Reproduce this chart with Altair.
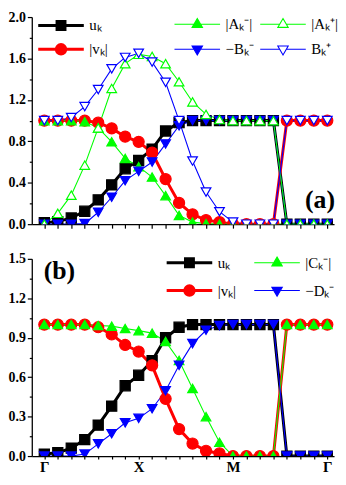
import altair as alt
import pandas as pd

# ---------------- data ----------------
k_index = list(range(22))
x_tick_pos = [0, 7, 14, 21]
x_tick_text = ["Γ", "X", "M", "Γ"]

u_k = [0.015, 0.025, 0.06, 0.125, 0.235, 0.38, 0.535, 0.615, 0.725, 0.90, 0.98,
       1.0, 1.0, 1.0, 1.0, 1.0, 1.0, 1.0, 0.0, 0.0, 0.0, 0.0]
v_k = [1.0, 1.0, 1.0, 1.0, 0.98, 0.925, 0.845, 0.795, 0.69, 0.435, 0.205,
       0.095, 0.04, 0.02, 0.0, 0.0, 0.0, 0.0, 1.0, 1.0, 1.0, 1.0]
a_minus = [1.0, 1.0, 1.0, 0.99, 0.93, 0.795, 0.635, 0.555, 0.455, 0.275, 0.085,
           0.02, 0.005, 0.0, 0.0, 0.0, 0.0, 0.0, 0.0, 0.0, 0.0, 0.0]
a_plus = [0.0, 0.105, 0.28, 0.57, 0.93, 1.31, 1.55, 1.64, 1.62, 1.55, 1.375,
          1.18, 1.06, 1.01, 1.0, 1.0, 1.0, 1.0, 0.0, 0.0, 0.0, 0.0]
b_minus_neg = [0.0, 0.0, 0.0, 0.005, 0.115, 0.26, 0.42, 0.51, 0.60, 0.775, 0.95,
               1.0, 1.0, 1.0, 1.0, 1.0, 1.0, 1.0, 0.0, 0.0, 0.0, 0.0]
b_plus = [1.0, 1.0, 1.03, 1.135, 1.30, 1.50, 1.61, 1.65, 1.565, 1.37, 1.0,
          0.61, 0.31, 0.12, 0.02, 0.0, 0.0, 0.0, 1.0, 1.0, 1.0, 1.0]
c_minus = [1.0, 1.0, 1.0, 1.0, 0.993, 0.988, 0.97, 0.954, 0.935, 0.872, 0.727,
           0.514, 0.30, 0.105, 0.0, 0.0, 0.0, 0.0, 1.0, 1.0, 1.0, 1.0]
d_minus_neg = [0.0, 0.0, 0.0, 0.015, 0.093, 0.17, 0.253, 0.287, 0.36, 0.497, 0.69,
               0.855, 0.957, 0.993, 1.0, 1.0, 1.0, 1.0, 0.0, 0.0, 0.0, 0.0]

top_series = ["uₖ", "|vₖ|", "|Aₖ⁻|", "−Bₖ⁻", "|Aₖ⁺|", "Bₖ⁺"]
top_values = [u_k, v_k, a_minus, b_minus_neg, a_plus, b_plus]
bottom_series = ["uₖ", "|vₖ|", "|Cₖ⁻|", "−Dₖ⁻"]
bottom_values = [u_k, v_k, c_minus, d_minus_neg]

top_y_major = [0.0, 0.4, 0.8, 1.2, 1.6, 2.0]
top_y_minor = [0.2, 0.6, 1.0, 1.4, 1.8]
bottom_y_major = [0.0, 0.3, 0.6, 0.9, 1.2, 1.5]
bottom_y_minor = [0.15, 0.45, 0.75, 1.05, 1.35]

# ---------------- styles / layout ----------------
SERIF = "Liberation Serif"
BLACK, RED, GREEN, BLUE, WHITE = "#000000", "#ff0000", "#00ff00", "#0000ff", "#ffffff"
P_SQ = "M-4.6,0H-0.8M0.8,0H4.6M-0.8,-0.8H0.8V0.8H-0.8Z"
P_CI = "M-4.6,0H-0.95M0.95,0H4.6M-0.95,0A0.95,0.95 0 1,0 0.95,0A0.95,0.95 0 1,0 -0.95,0Z"
P_TU = "M-4.6,0H-0.75M0.75,0H4.6M0,-1.15L1.05,0.65L-1.05,0.65Z"
P_TD = "M-4.6,0H-0.75M0.75,0H4.6M0,1.15L1.05,-0.65L-1.05,-0.65Z"

style = {
    "uₖ": dict(color=BLACK, fill=BLACK, shape="square", size=105, width=3.0, path=P_SQ),
    "|vₖ|": dict(color=RED, fill=RED, shape="circle", size=125, width=3.0, path=P_CI),
    "|Aₖ⁻|": dict(color=GREEN, fill=GREEN, shape="triangle-up", size=95, width=1.1, path=P_TU),
    "−Bₖ⁻": dict(color=BLUE, fill=BLUE, shape="triangle-down", size=95, width=1.1, path=P_TD),
    "|Aₖ⁺|": dict(color=GREEN, fill=WHITE, shape="triangle-up", size=95, width=1.1, path=P_TU),
    "Bₖ⁺": dict(color=BLUE, fill=WHITE, shape="triangle-down", size=95, width=1.1, path=P_TD),
    "|Cₖ⁻|": dict(color=GREEN, fill=GREEN, shape="triangle-up", size=95, width=1.1, path=P_TU),
    "−Dₖ⁻": dict(color=BLUE, fill=BLUE, shape="triangle-down", size=95, width=1.1, path=P_TD),
}

# legend entry anchor (symbol centre, px from the panel's plot origin)
top_legend_pos = {"uₖ": (27, 6.0), "|vₖ|": (27, 30.0),
                  "|Aₖ⁻|": (164.5, 4.7), "−Bₖ⁻": (164.5, 30.0),
                  "|Aₖ⁺|": (251, 4.7), "Bₖ⁺": (251, 30.0)}
bottom_legend_pos = {"uₖ": (156.6, 1.5), "|vₖ|": (156.6, 29.5),
                     "|Cₖ⁻|": (245, 1.5), "−Dₖ⁻": (245, 29.5)}
SYM_DX, SYM_DY = 5, 5


def attr(names, key):
    return [style[n][key] for n in names]


label_expr = " : ".join(
    f"datum.value == {p} ? '{t}'" for p, t in zip(x_tick_pos, x_tick_text)
) + " : ''"

W = 305


def legend_layer(df, name, cx, cy):
    names = [name]
    common = dict(orient="none", legendX=cx - SYM_DX, legendY=cy - SYM_DY, columns=1,
                  title=None, labelFont=SERIF, labelFontSize=15, labelOffset=21,
                  symbolSize=100, padding=0, labelColor=BLACK, labelBaseline="middle")
    return alt.Chart(df).transform_filter("false").mark_point(opacity=1).encode(
        stroke=alt.Stroke("series:N", scale=alt.Scale(domain=names, range=attr(names, "color")),
                          legend=alt.Legend(**common)),
        fill=alt.Fill("series:N", scale=alt.Scale(domain=names, range=attr(names, "fill")),
                      legend=alt.Legend(**common)),
        shape=alt.Shape("series:N", scale=alt.Scale(domain=names, range=attr(names, "path")),
                        legend=alt.Legend(**common)),
        strokeWidth=alt.StrokeWidth("series:N",
                                    scale=alt.Scale(type="ordinal", domain=names, range=attr(names, "width")),
                                    legend=alt.Legend(**common)),
    )


def panel(series, values, y_domain, y_major, y_minor, height, legend_pos, x_labels, title):
    rows = []
    for j, (name, vals) in enumerate(zip(series, values)):
        for k, val in zip(k_index, vals):
            rows.append({"k": k, "value": val, "series": name, "draw": j})
    df = pd.DataFrame(rows)

    xscale = alt.Scale(domain=[-0.93, 21.5], nice=False, zero=False)
    yscale = alt.Scale(domain=y_domain, nice=False, zero=False)
    if x_labels:
        xaxis = alt.Axis(values=k_index, labelExpr=label_expr, labelFlush=False,
                         labelOverlap=False, tickSize=3, labelPadding=1, title=None,
                         grid=False, labelFontSize=15)
    else:
        xaxis = alt.Axis(values=k_index, labels=False, tickSize=4, title=None, grid=False)
    yaxis = alt.Axis(values=y_major, format=".1f", orient="left", tickSize=4.5,
                     labelPadding=2, title=None, grid=False)
    yminor = alt.Axis(values=y_minor, orient="left", labels=False, domain=False,
                      tickSize=2.5, title=None, grid=False)

    lines = alt.Chart(df).mark_line(clip=True).encode(
        x=alt.X("k:Q", scale=xscale, axis=xaxis),
        y=alt.Y("value:Q", scale=yscale, axis=yaxis),
        stroke=alt.Stroke("series:N", scale=alt.Scale(domain=series, range=attr(series, "color")), legend=None),
        strokeWidth=alt.StrokeWidth("series:N",
                                    scale=alt.Scale(type="ordinal", domain=series, range=attr(series, "width")),
                                    legend=None),
        order=alt.Order("k:Q"),
    )
    points = alt.Chart(df).mark_point(clip=True, opacity=1, strokeWidth=1.2).encode(
        x=alt.X("k:Q", scale=xscale, axis=None),
        y=alt.Y("value:Q", scale=yscale, axis=yminor),
        stroke=alt.Stroke("series:N", scale=alt.Scale(domain=series, range=attr(series, "color")), legend=None),
        fill=alt.Fill("series:N", scale=alt.Scale(domain=series, range=attr(series, "fill")), legend=None),
        shape=alt.Shape("series:N", scale=alt.Scale(domain=series, range=attr(series, "shape")), legend=None),
        size=alt.Size("series:N", scale=alt.Scale(type="ordinal", domain=series, range=attr(series, "size")),
                      legend=None),
        order=alt.Order("draw:Q"),
    )
    leg_layers = [legend_layer(df, n, *legend_pos[n]) for n in series]
    return alt.layer(lines, points, *leg_layers).resolve_scale(
        stroke="independent", fill="independent", shape="independent",
        strokeWidth="independent", size="independent",
    ).resolve_axis(x="independent", y="independent").properties(
        width=W, height=height, title=title)


top = panel(
    top_series, top_values, [0, 2.0], top_y_major, top_y_minor, 209,
    top_legend_pos, False,
    alt.TitleParams("(a)", orient="bottom", anchor="end", frame="group", font=SERIF,
                    fontSize=26, fontWeight="bold", color=BLACK, dy=-44, dx=1, offset=0),
)
bottom = panel(
    bottom_series, bottom_values, [0, 1.5], bottom_y_major, bottom_y_minor, 199,
    bottom_legend_pos, True,
    alt.TitleParams("(b)", orient="top", anchor="start", frame="group", font=SERIF,
                    fontSize=26, fontWeight="bold", color=BLACK, dx=12, dy=32, offset=0),
)

chart = alt.vconcat(top, bottom, spacing=21).properties(padding=0).configure_view(
    stroke=None
).configure_axis(
    labelFont=SERIF, labelFontWeight="bold", labelFontSize=14, labelColor=BLACK,
    domainColor=BLACK, tickColor=BLACK, domainWidth=1.3, tickWidth=1.2,
)

chart.save("out.html", embed_options={"renderer": "svg", "actions": False})
